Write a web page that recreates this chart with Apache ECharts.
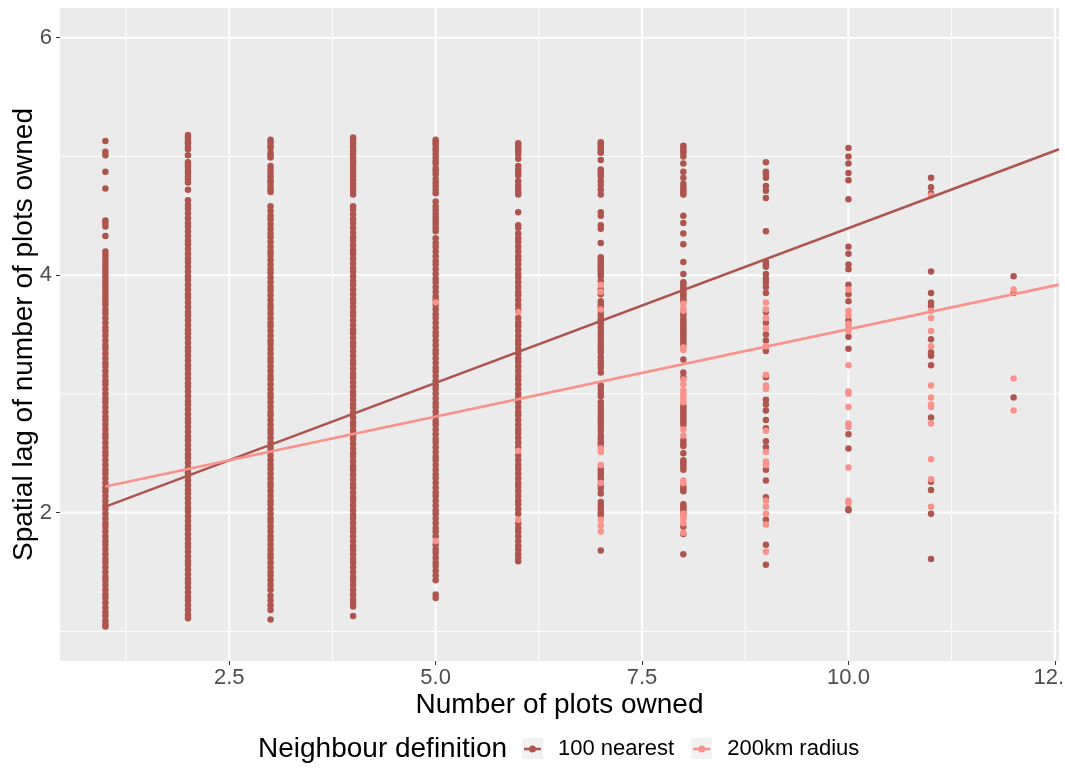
<!DOCTYPE html>
<html>
<head>
<meta charset="utf-8">
<script src="https://cdn.jsdelivr.net/npm/echarts@6/dist/echarts.min.js"></script>
<style>
  html, body { margin: 0; padding: 0; background: #ffffff; }
  #chart { width: 1065px; height: 769px; }
</style>
</head>
<body>
<div id="chart"></div>
<script>
// Number of plots owned (x positions of the point columns)
const plotCounts = [1, 2, 3, 4, 5, 6, 7, 8, 9, 10, 11, 12];

// Spatial lag, neighbours = 100 nearest, one list per plot count
const nearestLag = [
  [5.13,5.04,5.01,4.87,4.73,4.46,4.44,4.41,4.33,4.20,4.17,4.14,4.11,4.08,4.05,4.02,3.99,3.96,3.93,3.90,3.87,3.84,3.81,3.78,
   3.75,3.71,3.68,3.64,3.60,3.56,3.53,3.49,3.45,3.41,3.38,3.34,3.30,3.26,3.23,3.19,3.15,3.11,3.08,3.04,3.00,2.96,2.93,2.89,
   2.85,2.81,2.78,2.74,2.70,2.66,2.63,2.59,2.55,2.51,2.48,2.44,2.40,2.36,2.33,2.29,2.25,2.21,2.18,2.14,2.10,2.06,2.03,1.99,
   1.95,1.91,1.88,1.84,1.80,1.76,1.73,1.69,1.65,1.61,1.58,1.54,1.50,1.46,1.43,1.39,1.35,1.31,1.28,1.24,1.20,1.16,1.13,1.09,1.06,1.04],
  [5.18,5.16,5.13,5.11,5.08,5.06,5.01,4.95,4.93,4.91,4.88,4.86,4.83,4.81,4.78,4.72,
   4.63,4.59,4.56,4.52,4.48,4.44,4.41,4.37,4.33,4.29,4.26,4.22,4.18,4.14,4.11,4.07,4.03,3.99,3.96,3.92,3.88,3.84,3.81,3.77,
   3.73,3.69,3.66,3.62,3.58,3.54,3.51,3.47,3.43,3.39,3.36,3.32,3.28,3.24,3.21,3.17,3.13,3.09,3.06,3.02,2.98,2.94,2.91,2.87,
   2.83,2.79,2.76,2.72,2.68,2.64,2.61,2.57,2.53,2.49,2.46,2.42,2.38,2.34,2.31,2.27,2.23,2.19,2.16,2.12,2.08,2.04,2.01,1.97,
   1.93,1.89,1.86,1.82,1.78,1.74,1.71,1.67,1.63,1.59,1.56,1.52,1.48,1.44,1.41,1.37,1.33,1.29,1.26,1.22,1.18,1.14,1.11],
  [5.14,5.12,5.09,5.07,5.03,5.01,4.99,4.92,4.89,4.86,4.83,4.80,4.78,4.75,4.72,4.70,
   4.58,4.54,4.50,4.47,4.43,4.39,4.35,4.32,4.28,4.24,4.20,4.17,4.13,4.09,4.05,4.02,3.98,3.94,3.90,3.87,3.83,3.79,3.75,3.72,
   3.68,3.64,3.60,3.57,3.53,3.49,3.45,3.42,3.38,3.34,3.30,3.27,3.23,3.19,3.15,3.12,3.08,3.04,3.00,2.97,2.93,2.89,2.85,2.82,
   2.78,2.74,2.70,2.67,2.63,2.59,2.55,2.52,2.48,2.44,2.40,2.37,2.33,2.29,2.25,2.22,2.18,2.14,2.10,2.07,2.03,1.99,1.95,1.92,
   1.88,1.84,1.80,1.77,1.73,1.69,1.65,1.62,1.58,1.54,1.50,1.47,1.43,1.39,1.35,1.30,1.26,1.22,1.18,1.10],
  [5.16,5.14,5.11,5.08,5.05,5.02,4.99,4.97,4.95,4.92,4.89,4.86,4.83,4.80,4.77,4.74,4.71,4.68,
   4.58,4.55,4.51,4.47,4.44,4.40,4.36,4.32,4.29,4.25,4.21,4.18,4.14,4.10,4.06,4.03,3.99,3.95,3.92,3.88,3.84,3.80,3.77,3.73,
   3.69,3.66,3.62,3.58,3.54,3.51,3.47,3.43,3.40,3.36,3.32,3.28,3.25,3.21,3.17,3.14,3.10,3.06,3.02,2.99,2.95,2.91,2.88,2.84,
   2.80,2.76,2.73,2.69,2.65,2.62,2.58,2.54,2.50,2.47,2.43,2.39,2.36,2.32,2.28,2.24,2.21,2.17,2.13,2.10,2.06,2.02,1.98,1.95,
   1.91,1.87,1.84,1.80,1.76,1.72,1.69,1.65,1.61,1.58,1.54,1.50,1.46,1.43,1.39,1.35,1.31,1.27,1.24,1.21,1.13],
  [5.14,5.12,5.10,5.07,5.05,5.02,4.99,4.96,4.94,4.90,4.88,4.85,4.81,4.78,4.75,4.72,4.69,4.62,4.58,4.55,4.52,4.49,4.46,4.43,4.40,4.37,
   4.31,4.27,4.24,4.20,4.16,4.12,4.09,4.05,4.01,3.97,3.94,3.90,3.86,3.82,3.79,3.75,3.71,3.67,3.64,3.60,3.56,3.52,3.49,3.45,
   3.41,3.37,3.34,3.30,3.26,3.22,3.19,3.15,3.11,3.07,3.04,3.00,2.96,2.92,2.89,2.85,2.81,2.77,2.74,2.70,2.66,2.62,2.59,2.55,
   2.51,2.47,2.44,2.40,2.36,2.32,2.29,2.25,2.21,2.17,2.14,2.10,2.06,2.02,1.99,1.95,1.91,1.87,1.84,1.80,1.73,1.69,1.66,1.62,
   1.58,1.55,1.51,1.47,1.43,1.31,1.28],
  [5.11,5.09,5.07,5.05,5.02,4.98,4.92,4.89,4.86,4.84,4.79,4.76,4.73,4.70,4.68,4.53,4.42,4.40,
   4.35,4.31,4.28,4.24,4.20,4.16,4.13,4.09,4.05,4.01,3.98,3.94,3.90,3.86,3.83,3.79,3.75,3.71,3.64,3.60,3.57,3.53,3.49,3.45,
   3.42,3.38,3.34,3.30,3.27,3.23,3.19,3.15,3.12,3.08,3.04,3.00,2.97,2.93,2.89,2.85,2.82,2.78,2.74,2.70,2.67,2.63,2.59,2.55,
   2.48,2.44,2.40,2.37,2.33,2.29,2.25,2.22,2.18,2.14,2.10,2.07,2.03,1.99,1.91,1.87,1.84,1.80,1.76,1.72,1.69,1.65,1.62,1.59],
  [5.12,5.10,5.08,5.06,5.04,5.03,4.97,4.89,4.87,4.85,4.83,4.79,4.76,4.72,4.68,4.53,4.50,4.42,4.39,4.27,4.15,4.13,4.11,4.09,
   4.07,4.05,4.03,4.01,3.99,3.95,3.88,3.84,3.78,3.75,3.73,3.69,3.66,3.63,3.61,3.59,3.56,3.53,3.50,3.47,3.44,3.41,3.38,3.35,
   3.31,3.28,3.25,3.22,3.18,3.07,3.04,3.01,2.98,2.93,2.90,2.87,2.84,2.81,2.78,2.75,2.72,2.69,2.65,2.62,2.59,2.57,2.37,2.34,
   2.31,2.28,2.23,2.20,2.16,2.09,2.06,2.03,2.00,1.98,1.68],
  [5.09,5.07,5.05,5.03,5.00,4.94,4.87,4.82,4.77,4.74,4.72,4.70,4.68,4.50,4.44,4.35,4.26,4.11,4.01,3.94,3.92,3.90,3.88,3.86,
   3.84,3.82,3.80,3.78,3.68,3.66,3.63,3.61,3.59,3.57,3.55,3.53,3.51,3.49,3.47,3.45,3.43,3.41,3.29,3.18,3.14,2.90,2.88,2.86,
   2.84,2.82,2.80,2.78,2.76,2.74,2.61,2.58,2.56,2.50,2.44,2.42,2.40,2.38,2.36,2.22,2.20,2.18,2.07,2.05,2.03,2.01,1.99,1.88,
   1.82,1.65],
  [4.95,4.87,4.85,4.82,4.75,4.71,4.65,4.37,4.11,4.09,4.07,4.01,3.97,3.94,3.90,3.85,3.69,3.60,3.50,3.45,3.36,3.14,2.95,2.91,
   2.86,2.78,2.71,2.60,2.55,2.36,2.27,2.13,1.94,1.73,1.56],
  [5.07,5.00,4.94,4.86,4.80,4.64,4.24,4.18,4.09,4.05,3.92,3.84,3.78,3.62,3.48,3.38,2.66,2.54,2.03,2.02],
  [4.82,4.74,4.69,4.03,3.85,3.77,3.74,3.46,3.35,3.32,3.24,2.80,2.26,2.19,1.99,1.61],
  [3.99,3.85,2.97]
];

// Spatial lag, neighbours = within 200 km, one list per plot count
const radiusLag = [
  [],
  [],
  [],
  [],
  [3.77,1.76],
  [3.69,2.52,1.94],
  [3.92,3.86,3.71,2.54,2.51,2.40,2.25,1.94,1.89,1.84],
  [3.76,3.72,3.70,3.39,3.37,3.12,3.08,3.03,3.00,2.98,2.95,2.93,2.70,2.65,2.27,2.25,1.99,1.97,1.94,1.91,1.83],
  [3.77,3.71,3.64,3.55,3.40,3.16,3.07,3.04,2.69,2.51,2.43,2.40,2.10,2.05,1.99,1.90,1.67],
  [3.88,3.70,3.66,3.59,3.57,3.53,3.24,3.02,3.00,2.89,2.75,2.72,2.38,2.10,2.08],
  [4.67,3.70,3.64,3.53,3.40,3.07,2.97,2.91,2.89,2.75,2.45,2.28,2.05],
  [3.88,3.13,2.86]
];

// Fitted linear trends (end points)
const nearestFit = [[1, 2.05], [12.55, 5.06]];
const radiusFit = [[1, 2.22], [12.55, 3.92]];

// Axis ticks and grid breaks
const xRange = [0.45, 12.55];
const yRange = [0.75, 6.25];
const xTicks = [2.5, 5, 7.5, 10, 12.5];
const xMinorBreaks = [1.25, 3.75, 6.25, 8.75, 11.25];
const yTicks = [2, 4, 6];
const yMinorBreaks = [1, 3, 5];

const seriesNames = ['100 nearest', '200km radius'];
const darkRed = '#AE554F';
const salmon = '#F8928B';

function toPoints(groups) {
  const pts = [];
  groups.forEach((vals, i) => vals.forEach(v => pts.push([plotCounts[i], v])));
  return pts;
}

// legend key: short line with a dot on it
const keyIcon = 'path://M0,0L0.01,0L0,0.01Z M21,21L20.99,21L21,20.99Z M2,9.3L19,9.3L19,11.7L2,11.7Z M14,10.5A3.5,3.5,0,1,1,7,10.5A3.5,3.5,0,1,1,14,10.5Z';

function gridLines(vertical) {
  return function (params, api) {
    const v = api.value(vertical ? 0 : 1);
    const cs = params.coordSys;
    const major = vertical ? xTicks.includes(v) : yTicks.includes(v);
    const style = { stroke: '#FFFFFF', lineWidth: major ? 2 : 1 };
    if (vertical) {
      const x = api.coord([v, yRange[0]])[0];
      return { type: 'line', silent: true, shape: { x1: x, y1: cs.y, x2: x, y2: cs.y + cs.height }, style };
    }
    const y = api.coord([xRange[0], v])[1];
    return { type: 'line', silent: true, shape: { x1: cs.x, y1: y, x2: cs.x + cs.width, y2: y }, style };
  };
}

const chart = echarts.init(document.getElementById('chart'), null, { renderer: 'canvas' });

chart.setOption({
  animation: false,
  textStyle: { fontFamily: 'Liberation Sans, Arial, Helvetica, sans-serif' },
  title: {
    text: 'Neighbour definition',
    left: 253,
    top: 730,
    textStyle: { fontSize: 28, fontWeight: 'normal', color: '#000000' }
  },
  legend: {
    left: 522,
    top: 738,
    padding: 0,
    itemWidth: 21,
    itemHeight: 21,
    itemGap: 17,
    data: seriesNames.map(n => ({ name: n, icon: keyIcon })),
    textStyle: { fontSize: 22, color: '#000000', padding: [0, 0, 0, 10] },
    selectedMode: false
  },
  graphic: [
    { type: 'rect', left: 522, top: 738, shape: { width: 21, height: 21 }, style: { fill: '#F2F2F2' }, silent: true },
    { type: 'rect', left: 691, top: 738, shape: { width: 21, height: 21 }, style: { fill: '#F2F2F2' }, silent: true }
  ],
  grid: {
    left: 60,
    right: 6,
    top: 8,
    bottom: 108,
    containLabel: false,
    outerBoundsMode: 'none',
    show: true,
    backgroundColor: '#EBEBEB',
    borderWidth: 0
  },
  xAxis: {
    type: 'value',
    min: xRange[0],
    max: xRange[1],
    axisLine: { show: false },
    axisTick: { show: true, length: 4, lineStyle: { color: '#333333', width: 1 }, customValues: xTicks },
    axisLabel: { customValues: xTicks, formatter: v => Number(v).toFixed(1), color: '#4D4D4D', fontSize: 22, margin: 6 },
    splitLine: { show: false },
    name: 'Number of plots owned',
    nameLocation: 'middle',
    nameMoveOverlap: false,
    nameGap: 30,
    nameTextStyle: { fontSize: 28, color: '#000000' }
  },
  yAxis: {
    type: 'value',
    min: yRange[0],
    max: yRange[1],
    axisLine: { show: false },
    axisTick: { show: true, length: 4, lineStyle: { color: '#333333', width: 1 }, customValues: yTicks },
    axisLabel: { customValues: yTicks, formatter: v => String(v), color: '#4D4D4D', fontSize: 22, margin: 8 },
    splitLine: { show: false },
    name: 'Spatial lag of number of plots owned',
    nameLocation: 'middle',
    nameRotate: 90,
    nameMoveOverlap: false,
    nameGap: 22,
    nameTextStyle: { fontSize: 28, color: '#000000' }
  },
  series: [
    {
      type: 'custom',
      name: 'xgrid',
      z: 1,
      silent: true,
      renderItem: gridLines(true),
      data: xTicks.concat(xMinorBreaks).map(v => [v, 3])
    },
    {
      type: 'custom',
      name: 'ygrid',
      z: 1,
      silent: true,
      renderItem: gridLines(false),
      data: yTicks.concat(yMinorBreaks).map(v => [1, v])
    },
    {
      type: 'scatter',
      name: seriesNames[0],
      z: 2,
      symbol: 'circle',
      symbolSize: 6.5,
      itemStyle: { color: darkRed, opacity: 1 },
      data: toPoints(nearestLag)
    },
    {
      type: 'scatter',
      name: seriesNames[1],
      z: 3,
      symbol: 'circle',
      symbolSize: 6.5,
      itemStyle: { color: salmon, opacity: 1 },
      data: toPoints(radiusLag)
    },
    {
      type: 'line',
      name: seriesNames[0],
      z: 4,
      showSymbol: false,
      symbol: 'none',
      silent: true,
      itemStyle: { color: darkRed },
      lineStyle: { color: darkRed, width: 2.6 },
      data: nearestFit
    },
    {
      type: 'line',
      name: seriesNames[1],
      z: 5,
      showSymbol: false,
      symbol: 'none',
      silent: true,
      itemStyle: { color: salmon },
      lineStyle: { color: salmon, width: 2.6 },
      data: radiusFit
    }
  ]
});
</script>
</body>
</html>
